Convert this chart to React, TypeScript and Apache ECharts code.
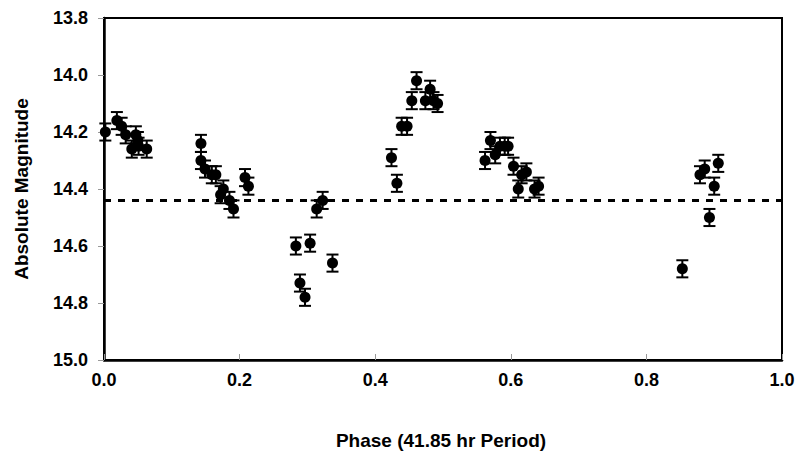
import React, { useEffect, useRef } from "react";
import * as echarts from "echarts";

// Rotational phase of each observation and its absolute magnitude
const phase = [
  0.002, 0.019, 0.026, 0.032, 0.041, 0.047, 0.05, 0.051, 0.063,
  0.143, 0.143, 0.149, 0.159, 0.165, 0.172, 0.176, 0.185, 0.191, 0.208, 0.213,
  0.283, 0.289, 0.2965, 0.304, 0.3137, 0.3225, 0.337,
  0.424, 0.432, 0.439, 0.447, 0.454, 0.461, 0.474, 0.481, 0.486, 0.492,
  0.562, 0.57, 0.577, 0.584, 0.591, 0.596, 0.604, 0.611, 0.616, 0.623, 0.635, 0.641,
  0.853, 0.879, 0.886, 0.893, 0.9, 0.906,
];
const magnitude = [
  14.2, 14.16, 14.18, 14.21, 14.26, 14.21, 14.23, 14.25, 14.26,
  14.24, 14.3, 14.33, 14.35, 14.35, 14.42, 14.4, 14.44, 14.47, 14.36, 14.39,
  14.6, 14.73, 14.78, 14.59, 14.47, 14.44, 14.66,
  14.29, 14.38, 14.18, 14.18, 14.09, 14.02, 14.09, 14.05, 14.09, 14.1,
  14.3, 14.23, 14.28, 14.25, 14.25, 14.25, 14.32, 14.4, 14.35, 14.34, 14.4, 14.39,
  14.68, 14.35, 14.33, 14.5, 14.39, 14.31,
];
// One-sigma uncertainty of each magnitude
const uncertainty = [
  0.03, 0.03, 0.03, 0.03, 0.03, 0.03, 0.03, 0.03, 0.03,
  0.03, 0.03, 0.03, 0.03, 0.03, 0.03, 0.03, 0.03, 0.03, 0.03, 0.03,
  0.03, 0.03, 0.03, 0.03, 0.03, 0.03, 0.03,
  0.03, 0.03, 0.03, 0.03, 0.03, 0.03, 0.03, 0.03, 0.03, 0.03,
  0.03, 0.03, 0.03, 0.03, 0.03, 0.03, 0.03, 0.03, 0.03, 0.03, 0.03, 0.03,
  0.03, 0.03, 0.03, 0.03, 0.03, 0.03,
];
// Mean magnitude
const meanMagnitude = 14.44;

const xTicks = { min: 0, max: 1, interval: 0.2 };
const yTicks = { min: 13.8, max: 15.0, interval: 0.2 };

const FONT = "'Liberation Sans', Arial, sans-serif";

export default function App() {
  const ref = useRef<HTMLDivElement>(null);

  useEffect(() => {
    if (!ref.current) return;
    const chart = echarts.init(ref.current, undefined, { renderer: "svg" });

    const points = phase.map((p, i) => [p, magnitude[i]]);
    const bars = phase.map((p, i) => [
      p,
      magnitude[i] - uncertainty[i],
      magnitude[i] + uncertainty[i],
    ]);

    chart.setOption({
      animation: false,
      backgroundColor: "#fff",
      grid: {
        left: 104,
        right: 20,
        top: 18,
        bottom: 101,
        show: true,
        borderColor: "#000",
        borderWidth: 2,
      },
      xAxis: {
        type: "value",
        ...xTicks,
        splitLine: { show: false },
        axisLine: { lineStyle: { color: "#000", width: 2.5 } },
        axisTick: { inside: true, length: 6, lineStyle: { color: "#999", width: 1 } },
        axisLabel: {
          margin: 11,
          color: "#000",
          fontFamily: FONT,
          fontWeight: "bold",
          fontSize: 18,
          formatter: (v: number) => v.toFixed(1),
        },
      },
      yAxis: {
        type: "value",
        inverse: true,
        ...yTicks,
        splitLine: { show: false },
        axisLine: { show: true, lineStyle: { color: "#000", width: 2.5 } },
        axisTick: { show: true, inside: false, length: 6, lineStyle: { color: "#999", width: 1 } },
        axisLabel: {
          margin: 16,
          color: "#000",
          fontFamily: FONT,
          fontWeight: "bold",
          fontSize: 18,
          formatter: (v: number) => v.toFixed(1),
        },
      },
      graphic: [
        {
          type: "text",
          x: 21,
          y: 189,
          rotation: Math.PI / 2,
          style: {
            text: "Absolute Magnitude",
            fill: "#000",
            font: `bold 19px ${FONT}`,
            align: "center",
            verticalAlign: "middle",
          },
        },
        {
          type: "text",
          x: 441,
          y: 440,
          style: {
            text: "Phase (41.85 hr Period)",
            fill: "#000",
            font: `bold 19px ${FONT}`,
            align: "center",
            verticalAlign: "middle",
          },
        },
      ],
      series: [
        {
          type: "custom",
          name: "uncertainty",
          data: bars,
          encode: { x: 0, y: [1, 2] },
          z: 2,
          renderItem: (params: any, api: any) => {
            const x = api.value(0);
            const top = api.coord([x, api.value(1)]);
            const bottom = api.coord([x, api.value(2)]);
            const half = 6;
            const style = { stroke: "#000", lineWidth: 2 };
            return {
              type: "group",
              children: [
                { type: "line", shape: { x1: top[0], y1: top[1], x2: bottom[0], y2: bottom[1] }, style },
                { type: "line", shape: { x1: top[0] - half, y1: top[1], x2: top[0] + half, y2: top[1] }, style },
                { type: "line", shape: { x1: bottom[0] - half, y1: bottom[1], x2: bottom[0] + half, y2: bottom[1] }, style },
              ],
            };
          },
        },
        {
          type: "scatter",
          name: "magnitude",
          data: points,
          symbol: "circle",
          symbolSize: 11,
          itemStyle: { color: "#000", opacity: 1 },
          z: 3,
          markLine: {
            silent: true,
            symbol: "none",
            label: { show: false },
            lineStyle: { color: "#000", type: [7, 7], width: 3 },
            data: [{ yAxis: meanMagnitude }],
          },
        },
      ],
    });

    return () => chart.dispose();
  }, []);

  return (
    <div
      ref={ref}
      style={{ position: "fixed", left: 0, top: 0, width: 802, height: 461 }}
    />
  );
}
